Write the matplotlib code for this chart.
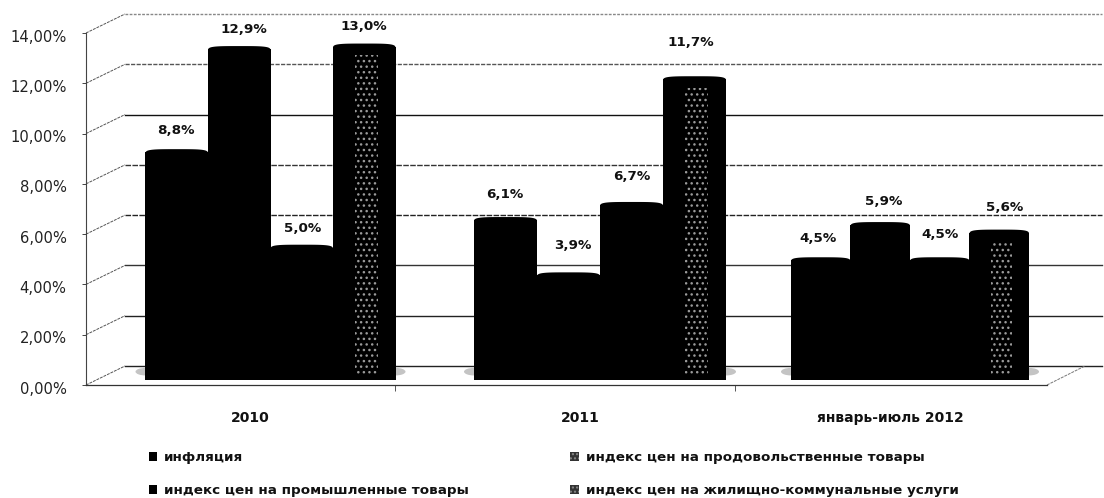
import numpy as np
import matplotlib
matplotlib.use('Agg')
import matplotlib.pyplot as plt
from matplotlib.patches import Ellipse, Patch
from matplotlib.ticker import FuncFormatter
from matplotlib.transforms import ScaledTranslation

# Values
categories = ['2010', '2011', 'январь-июль 2012']
series_names = ['инфляция',
                'индекс цен на продовольственные товары',
                'индекс цен на промышленные товары',
                'индекс цен на жилищно-коммунальные услуги']
inflation = [8.8, 6.1, 4.5]
food = [12.9, 3.9, 5.9]
industrial = [5.0, 6.7, 4.5]
utilities = [13.0, 11.7, 5.6]
y_ticks = [0, 2, 4, 6, 8, 10, 12, 14]

# Layout of the fake 3D chart, x axis is in figure pixels
group_centers = [270.5, 600, 910]
bar_widths = [62.5, 63, 59.5]
label_centers = [250, 580, 890]
boundary_ticks = [395, 735]
mid_depth = 0.38   # bars stand half way back on the floor
back_depth = 0.756 # back wall is raised by this much
back_x = 125
cap_height = 0.4

# Label nudges in pixels (dx, gap above the bar), per series and per group
label_dx = [[-1, -1, -3], [5, 4, 3], [1, 0, 0], [0, -4, 5]]
label_gap = [[19, 23, 19], [17, 27, 21], [16, 25, 23], [17, 34, 22]]

# Gridline look per level, the scan makes some of them solid and some broken
grid_colors = ['#222222', '#222222', '#333333', '#222222', '#333333', '#111111', '#555555', '#888888']
grid_styles = ['-', '-', '-', (0, (4, 1)), (0, (4, 1)), '-', (0, (3, 1)), (0, (2, 1))]


def cap(ax, x, y, w, h):
    # Flattened top of a cylinder, squarer than a true ellipse
    t = np.linspace(0, np.pi, 60)
    px = x + w / 2 * np.sign(np.cos(t)) * np.abs(np.cos(t)) ** 0.5
    py = y + h / 2 * np.sin(t) ** 0.5
    ax.fill(px, py, color='black', lw=0, zorder=3)


fig = plt.figure(figsize=(11.04, 4.98), dpi=100)
ax = fig.add_axes([86 / 1104, 113 / 498, 961 / 1104, 352 / 498])
ax.set_xlim(86, 1047)
ax.set_ylim(0, 14)

# Back wall gridlines and the oblique lines going to the front axis
for k, v in enumerate(y_ticks):
    ax.plot([back_x, 1102], [v + back_depth, v + back_depth], clip_on=False, zorder=1,
            color=grid_colors[k], lw=1.0, ls=grid_styles[k])
    ax.plot([86, back_x], [v, v + back_depth], clip_on=False, zorder=1,
            color='#555555', lw=0.7, ls=(0, (3, 1)))

# Floor edge on the right
ax.plot([1047, 1085], [0, back_depth], clip_on=False, color='#777777', lw=0.7, ls=(0, (3, 1)), zorder=1)

# Soft shadows on the floor at both ends of each group
for g, c in enumerate(group_centers):
    half = 2 * bar_widths[g]
    for side in (-1, 1):
        ax.add_patch(Ellipse((c + side * half, mid_depth + 0.15), 20, 0.3, color='#c4c4c4', lw=0, zorder=2))

all_series = [inflation, food, industrial, utilities]
for i, values in enumerate(all_series):
    for g, v in enumerate(values):
        w = bar_widths[g]
        x = group_centers[g] + (i - 1.5) * w
        top = mid_depth + v
        # a bit taller than needed so no seam shows under the cap
        ax.bar(x, v + cap_height / 2 + 0.08, width=w + 0.5, bottom=mid_depth - cap_height / 2,
               color='black', lw=0, zorder=3)
        cap(ax, x, top, w, cap_height)
        if i == 3:
            # speckled highlight down the middle of the last cylinder
            ax.bar(x + 2, v - 0.25, width=w * 0.36, bottom=mid_depth, color='none',
                   edgecolor='#9a9a9a', hatch='...', lw=0, zorder=4)
        ax.annotate(f'{v:.1f}%'.replace('.', ','),
                    xy=(x, top + cap_height / 2), xytext=(label_dx[i][g] * 0.72, label_gap[i][g] * 0.72),
                    textcoords='offset points', ha='center', va='center',
                    fontsize=9.7, fontweight='bold', color='#111111', zorder=5,
                    annotation_clip=False)

# Axes
ax.set_yticks(y_ticks)
ax.yaxis.set_major_formatter(FuncFormatter(lambda v, pos: f'{v:.2f}%'.replace('.', ',')))
ax.tick_params(axis='y', length=3, width=0.7, pad=11, labelsize=10.6, labelcolor='#222222', color='#444444')
# the labels sit a little under their ticks
shift = ScaledTranslation(0, -2.5 / 100, fig.dpi_scale_trans)
for lab in ax.get_yticklabels():
    lab.set_transform(lab.get_transform() + shift)

ax.set_xticks(label_centers)
ax.set_xticklabels(categories, fontsize=10, fontweight='bold', color='#111111')
ax.tick_params(axis='x', length=0, pad=18.5)
ax.set_xticks(boundary_ticks, minor=True)
ax.tick_params(axis='x', which='minor', length=4, width=0.7, color='#555555')

for side in ['top', 'right']:
    ax.spines[side].set_visible(False)
ax.spines['left'].set_color('#444444')
ax.spines['left'].set_linewidth(0.8)
ax.spines['left'].set_linestyle((0, (2, 1)))
ax.spines['bottom'].set_color('#333333')
ax.spines['bottom'].set_linewidth(0.9)
ax.spines['bottom'].set_linestyle((0, (3, 1)))
ax.patch.set_alpha(0)

# Legend, two columns filled top to bottom
handles = [Patch(facecolor='black', label=series_names[0]),
           Patch(facecolor='black', label=series_names[2]),
           Patch(facecolor='#333333', edgecolor='#888888', hatch='....', lw=0, label=series_names[1]),
           Patch(facecolor='#333333', edgecolor='#888888', hatch='....', lw=0, label=series_names[3])]
fig.legend(handles=handles, ncol=2, frameon=False, prop={'size': 9.7, 'weight': 'bold'},
           loc='lower left', bbox_to_anchor=(148 / 1104, 0), borderaxespad=0, borderpad=0.05,
           handlelength=0.65, handleheight=0.65, handletextpad=0.5,
           columnspacing=7.5, labelspacing=1.5, labelcolor='#111111')

fig.savefig('out.png', dpi=100)
